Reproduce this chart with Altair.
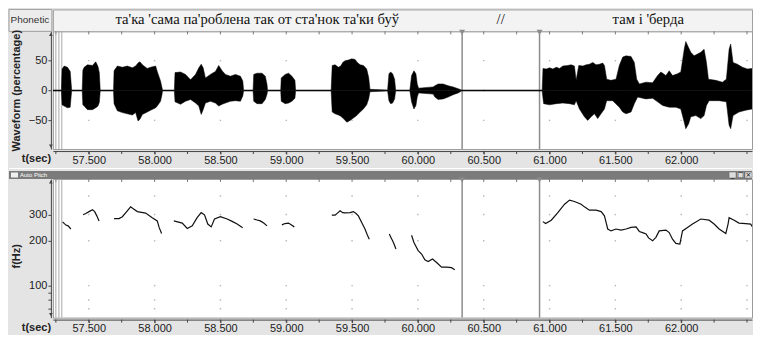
import altair as alt
import pandas as pd

# ---------------- data ----------------
X_DOMAIN = [57.2273, 62.5379]
LABEL_TICKS = [57.5, 58.0, 58.5, 59.0, 59.5, 60.0, 60.5, 61.0, 61.5, 62.0]
QUARTER_TICKS = [57.25, 57.5, 57.75, 58.0, 58.25, 58.5, 58.75, 59.0, 59.25, 59.5, 59.75,
                 60.0, 60.25, 60.5, 60.75, 61.0, 61.25, 61.5, 61.75, 62.0, 62.25, 62.5]
GRID_X = [57.5, 58.0, 58.5, 59.0, 59.5, 60.0, 60.5, 61.0, 61.5, 62.0, 62.5]
WAVE_GRID_Y = [-50, 0, 50]
PITCH_GRID_Y = [400, 300, 200, 100, 80, 70]

SEG_START = [57.2273, 60.333, 60.924]
SEG_END = [60.333, 60.924, 62.5758]
SEG_TEXT = ["та'ка 'сама па'роблена так от ста'нок та'ки буў", "//", "там і 'берда"]
BOUNDARIES = [60.336, 60.924]
LEFT_LINES = [57.250, 57.273, 57.295]

# upper envelope of the waveform
WAVE_TOP_T = [57.228, 57.292, 57.297, 57.313, 57.338, 57.359, 57.366, 57.370,
              57.450, 57.455, 57.465, 57.490, 57.528, 57.553, 57.570, 57.580, 57.587,
              57.688, 57.692, 57.717, 57.755, 57.793, 57.831, 57.856, 57.874, 57.889, 57.907,
              57.944, 57.970, 58.008, 58.020, 58.045, 58.056, 58.060,
              58.150, 58.155, 58.197, 58.235, 58.273, 58.311, 58.336, 58.354, 58.369, 58.386,
              58.424, 58.462, 58.487, 58.513, 58.538, 58.576, 58.614, 58.652, 58.670, 58.676,
              58.748, 58.753, 58.778, 58.816, 58.841, 58.854, 58.858,
              58.958, 58.962, 58.992, 59.018, 59.043, 59.066, 59.071,
              59.341, 59.349, 59.371, 59.396, 59.414, 59.429, 59.447, 59.472, 59.498, 59.523,
              59.540, 59.561, 59.586, 59.611, 59.626, 59.636,
              59.770, 59.780, 59.793, 59.808, 59.823, 59.831,
              59.939, 59.952, 59.970, 59.985, 59.995, 60.005, 60.116, 60.129, 60.154, 60.192,
              60.230, 60.268, 60.306, 60.331,
              60.944, 60.950, 60.975, 61.000, 61.025, 61.051, 61.076, 61.101, 61.139, 61.164,
              61.189, 61.202, 61.222, 61.253, 61.278, 61.303, 61.328, 61.354, 61.379, 61.404,
              61.417, 61.434, 61.467, 61.505, 61.530, 61.556, 61.581, 61.619, 61.644, 61.662,
              61.682, 61.732, 61.783, 61.821, 61.846, 61.884, 61.909, 61.934, 61.972, 61.997,
              62.023, 62.035, 62.056, 62.073, 62.098, 62.124, 62.149, 62.174, 62.192, 62.207,
              62.263, 62.313, 62.343, 62.364, 62.376, 62.394, 62.427, 62.465, 62.503, 62.540,
              62.566, 62.5758]
WAVE_TOP = [0.9, 0.9, 36, 41, 39, 32, 12, 0.9,
            0.9, 34, 39, 43, 42, 48, 40, 30, 0.9,
            0.9, 33, 41, 39, 41, 38, 41, 46, 48, 43,
            37, 39, 41, 32, 16, 5, 0.9,
            0.9, 30, 31, 27, 18, 27, 38, 44, 38, 21,
            27, 32, 42, 33, 27, 24, 27, 24, 16, 0.9,
            0.9, 27, 29, 29, 24, 10, 0.9,
            0.9, 21, 27, 29, 24, 17, 0.9,
            0.9, 42, 43, 39, 41, 47, 50, 51, 53, 52,
            47, 43, 42, 36, 22, 2,
            0.9, 28, 31, 28, 19, 0.9,
            0.9, 25, 33, 28, 11, 4, 6, 8, 11, 11,
            8, 6, 3, 0.9,
            0.9, 37, 36, 38, 36, 39, 37, 41, 42, 43,
            41, 17, 42, 41, 43, 44, 47, 43, 44, 46,
            42, 19, 17, 19, 42, 56, 58, 57, 47, 19,
            11, 14, 13, 25, 31, 25, 33, 25, 28, 31,
            69, 82, 72, 64, 58, 61, 64, 69, 47, 19,
            17, 14, 19, 69, 78, 47, 44, 39, 36, 37,
            36, 30]

# lower envelope of the waveform
WAVE_BOT_T = [57.228, 57.292, 57.297, 57.313, 57.338, 57.359, 57.366, 57.370,
              57.450, 57.455, 57.465, 57.490, 57.528, 57.553, 57.570, 57.580, 57.587,
              57.688, 57.692, 57.717, 57.755, 57.793, 57.831, 57.856, 57.874, 57.889, 57.907,
              57.944, 57.970, 58.008, 58.020, 58.045, 58.056, 58.060,
              58.150, 58.155, 58.197, 58.235, 58.273, 58.311, 58.336, 58.354, 58.369, 58.386,
              58.424, 58.462, 58.487, 58.513, 58.538, 58.576, 58.614, 58.652, 58.670, 58.676,
              58.748, 58.753, 58.778, 58.816, 58.841, 58.854, 58.858,
              58.958, 58.962, 58.992, 59.018, 59.043, 59.066, 59.071,
              59.341, 59.349, 59.371, 59.396, 59.414, 59.434, 59.460, 59.485, 59.510, 59.535,
              59.561, 59.586, 59.611, 59.626, 59.636,
              59.770, 59.780, 59.793, 59.808, 59.823, 59.831,
              59.939, 59.952, 59.970, 59.985, 59.995, 60.005, 60.116, 60.129, 60.154, 60.192,
              60.230, 60.268, 60.306, 60.331,
              60.944, 60.955, 61.000, 61.051, 61.101, 61.152, 61.189, 61.202, 61.227, 61.265,
              61.290, 61.316, 61.341, 61.366, 61.391, 61.417, 61.434, 61.480, 61.530, 61.556,
              61.581, 61.619, 61.644, 61.669, 61.732, 61.783, 61.821, 61.859, 61.909, 61.960,
              61.997, 62.023, 62.035, 62.056, 62.073, 62.111, 62.149, 62.174, 62.192, 62.212,
              62.288, 62.343, 62.364, 62.376, 62.394, 62.439, 62.490, 62.540, 62.566, 62.5758]
WAVE_BOT = [-0.9, -0.9, -24, -26, -29, -28, -10, -0.9,
            -0.9, -24, -26, -32, -32, -29, -26, -20, -0.9,
            -0.9, -22, -34, -37, -39, -41, -37, -51, -48, -40,
            -36, -33, -29, -26, -18, -7, -0.9,
            -0.9, -19, -23, -18, -15, -21, -26, -40, -32, -21,
            -18, -21, -26, -23, -21, -18, -17, -18, -9, -0.9,
            -0.9, -18, -22, -22, -15, -6, -0.9,
            -0.9, -18, -22, -21, -18, -13, -0.9,
            -0.9, -36, -39, -41, -43, -47, -53, -50, -46, -42,
            -36, -31, -24, -14, -2,
            -0.9, -17, -22, -21, -14, -0.9,
            -0.9, -19, -31, -25, -11, -4, -6, -11, -15, -14,
            -11, -7, -4, -0.9,
            -0.9, -22, -24, -22, -21, -22, -24, -17, -31, -44,
            -50, -44, -39, -47, -39, -31, -17, -17, -28, -36,
            -39, -36, -22, -11, -14, -13, -19, -25, -28, -28,
            -31, -53, -64, -56, -44, -42, -47, -42, -25, -17,
            -17, -19, -58, -64, -42, -36, -33, -31, -31, -20]

PITCH_T = [
    [57.301, 57.326, 57.343, 57.364],
    [57.457, 57.477, 57.502, 57.528, 57.545, 57.561, 57.578],
    [57.692, 57.730, 57.755, 57.788, 57.818, 57.843, 57.869, 57.932, 57.982, 58.020, 58.035, 58.053],
    [58.146, 58.210, 58.248, 58.286, 58.323, 58.354, 58.379, 58.404, 58.430, 58.455, 58.500,
     58.551, 58.589, 58.627, 58.669],
    [58.752, 58.778, 58.803, 58.829, 58.854],
    [58.967, 58.990, 59.017, 59.040, 59.061],
    [59.346, 59.371, 59.389, 59.409, 59.429, 59.447, 59.485, 59.510, 59.530, 59.548, 59.573,
     59.598, 59.616, 59.631],
    [59.783, 59.796, 59.808, 59.821, 59.833],
    [59.952, 59.970, 60.002, 60.028, 60.053, 60.078, 60.111, 60.142, 60.180, 60.217, 60.255, 60.280],
    [60.949, 60.970, 61.013, 61.063, 61.114, 61.152, 61.189, 61.240, 61.265, 61.303, 61.354,
     61.392, 61.417, 61.430, 61.442, 61.467, 61.505, 61.543, 61.581, 61.619, 61.657, 61.682,
     61.707, 61.733, 61.752, 61.783, 61.808, 61.833, 61.884, 61.909, 61.934, 61.960, 61.990,
     62.010, 62.048, 62.086, 62.149, 62.212, 62.250, 62.288, 62.339, 62.356, 62.364, 62.402,
     62.439, 62.490, 62.528, 62.548, 62.570],
]
PITCH_F = [
    [268, 255, 252, 240],
    [299, 305, 314, 323, 314, 294, 272],
    [282, 282, 290, 314, 338, 326, 314, 307, 286, 272, 245, 224],
    [272, 263, 242, 252, 286, 309, 299, 259, 248, 280, 290, 280, 270, 259, 245],
    [280, 276, 272, 263, 252],
    [256, 261, 263, 255, 248],
    [297, 297, 307, 318, 309, 308, 309, 314, 305, 294, 265, 240, 219, 205],
    [222, 210, 200, 188, 176],
    [218, 195, 172, 163, 149, 145, 151, 143, 133, 133, 132, 128],
    [269, 261, 275, 309, 352, 375, 367, 352, 338, 321, 321,
     314, 294, 265, 240, 233, 240, 236, 240, 246, 248, 231,
     227, 222, 209, 200, 211, 233, 236, 227, 205, 192, 190,
     233, 246, 259, 280, 275, 259, 240, 224, 259, 286, 275,
     263, 261, 259, 243, 224],
]

# ---------------- styling ----------------
BG = '#e4e4e4'
FONT = 'Liberation Sans'
INK = '#222222'
LINEGRAY = '#8c8c8c'
W = 701
WAVE_H = 118
PITCH_H = 139

xscale = alt.Scale(domain=X_DOMAIN, nice=False, zero=False)


def x_axis(title_y):
    return alt.Axis(values=LABEL_TICKS, format='.3f',
                    title='t(sec)', titleX=-17, titleY=title_y, titleAlign='center', titleBaseline='middle',
                    titleFontWeight='bold', titleFontSize=11, titleFont=FONT, titleColor=INK,
                    grid=False, tickSize=3, labelPadding=0, offset=2, domainColor='#444', tickColor='#444',
                    labelFontSize=11, labelFont=FONT, labelColor=INK, labelOverlap=False, labelFlush=False)


wave_grid = pd.DataFrame([(gx, gy) for gx in GRID_X for gy in WAVE_GRID_Y], columns=['t', 'v'])
pitch_grid = pd.DataFrame([(gx, gy) for gx in GRID_X for gy in PITCH_GRID_Y], columns=['t', 'v'])
bnd_df = pd.DataFrame({'t': BOUNDARIES})
left_df = pd.DataFrame({'t': LEFT_LINES})
tick_df = pd.DataFrame({'t': QUARTER_TICKS})
one = pd.DataFrame({'k': [0]})


def decorations(h):
    top_ticks = alt.Chart(tick_df).mark_rule(color='#777').encode(
        x='t:Q', y=alt.value(0), y2=alt.value(3))
    bot_ticks = alt.Chart(tick_df).mark_rule(color='#444').encode(
        x='t:Q', y=alt.value(h + 2), y2=alt.value(h + 5))
    left = alt.Chart(left_df).mark_rule(color='#a8a8a8', strokeWidth=1).encode(x='t:Q')
    bnd = alt.Chart(bnd_df).mark_rule(color=LINEGRAY, strokeWidth=1.5).encode(x='t:Q')
    tri = alt.Chart(bnd_df).mark_point(shape='triangle-down', filled=True, size=35, color=LINEGRAY,
                                       opacity=1).encode(x='t:Q', y=alt.value(1))
    up = alt.Chart(one).mark_point(shape='triangle-up', filled=True, size=14, color='#444',
                                   opacity=1).encode(x=alt.value(-2), y=alt.value(3))
    dn = alt.Chart(one).mark_point(shape='triangle-down', filled=True, size=14, color='#444',
                                   opacity=1).encode(x=alt.value(-2), y=alt.value(h - 3))
    return [top_ticks, bot_ticks, left, bnd, tri, up, dn]


# ---------------- phonetic bar ----------------
phon_df = pd.DataFrame({'start': SEG_START, 'end': SEG_END, 'text': SEG_TEXT})
phon_df['t'] = (phon_df['start'] + phon_df['end']) / 2
phon_df['row'] = 'p'
phon_text = alt.Chart(phon_df).mark_text(font='Liberation Serif', fontSize=14.7, color='#111').encode(
    x=alt.X('t:Q', scale=xscale, axis=None),
    y=alt.Y('row:N', axis=None),
    text='text:N')
phon_box = alt.Chart(one).mark_rect(fill='#ececec', stroke='#a0a0a0').encode(
    x=alt.value(-44), x2=alt.value(-1), y=alt.value(0), y2=alt.value(22))
phon_lbl = alt.Chart(one).mark_text(font=FONT, fontSize=10, color='#333').encode(
    x=alt.value(-23), y=alt.value(11), text=alt.value('Phonetic'))
phon = alt.layer(phon_box, phon_lbl, phon_text).properties(
    width=W, height=22, view=alt.ViewBackground(fill='#f3f3f3', stroke='#a0a0a0'))

# ---------------- waveform ----------------
wy = alt.Scale(domain=[-98, 99], nice=False, zero=False)
wave_y_axis = alt.Axis(values=[-50, 0, 50], title='Waveform (percentage)', titleX=-34, titleY=59,
                       titleAngle=-90, titleAlign='center', titleBaseline='middle', titleFontWeight='bold',
                       titleFontSize=11, titleFont=FONT, titleColor=INK, grid=False, tickSize=3,
                       labelPadding=1, offset=2, domainColor='#444', tickColor='#444', labelFontSize=11,
                       labelFont=FONT, labelColor=INK)

w_dots = alt.Chart(wave_grid).mark_square(size=2, color='#999').encode(
    x=alt.X('t:Q', scale=xscale, axis=x_axis(7)), y=alt.Y('v:Q', scale=wy, axis=wave_y_axis))
top_df = pd.DataFrame({'t': WAVE_TOP_T, 'v': WAVE_TOP})
bot_df = pd.DataFrame({'t': WAVE_BOT_T, 'v': WAVE_BOT})
w_up = alt.Chart(top_df).mark_area(color='black', stroke='black', strokeWidth=0.5, clip=True).encode(
    x='t:Q', y='v:Q', y2=alt.datum(0))
w_dn = alt.Chart(bot_df).mark_area(color='black', stroke='black', strokeWidth=0.5, clip=True).encode(
    x='t:Q', y='v:Q', y2=alt.datum(0))
wave = alt.layer(w_dots, *decorations(WAVE_H), w_up, w_dn).properties(
    width=W, height=WAVE_H, view=alt.ViewBackground(fill='white', stroke='#9a9a9a'))

# ---------------- auto pitch title bar ----------------
ap_line = alt.Chart(one).mark_rect(color='#ffffff').encode(
    x=alt.value(-44), x2=alt.value(W), y=alt.value(19), y2=alt.value(20))
ap_bar = alt.Chart(one).mark_rect(color='#7b7b7b').encode(
    x=alt.value(-44), x2=alt.value(W), y=alt.value(22), y2=alt.value(30))
ap_icon = alt.Chart(one).mark_rect(color='#f0f0f0').encode(
    x=alt.value(-42), x2=alt.value(-35), y=alt.value(23.5), y2=alt.value(28.5))
ap_txt = alt.Chart(one).mark_text(color='white', fontSize=6, font=FONT, align='left', baseline='middle').encode(
    x=alt.value(-33), y=alt.value(26), text=alt.value('Auto Pitch'))
btn_df = pd.DataFrame({'b': ['_', '□', '×'], 'x0': [678, 686, 694], 'x1': [685, 693, 701]})
ap_btn = alt.Chart(btn_df).mark_rect(color='#dcdcdc', stroke='#666', strokeWidth=0.5).encode(
    x=alt.X('x0:Q', scale=None), x2=alt.X2('x1:Q'), y=alt.value(23), y2=alt.value(29))
ap_btn_t = alt.Chart(btn_df).mark_text(fontSize=7, font='DejaVu Sans', color='black', dx=3.5).encode(
    x=alt.X('x0:Q', scale=None), y=alt.value(26.5), text='b:N')
autop = alt.layer(ap_line, ap_bar, ap_icon, ap_txt, ap_btn, ap_btn_t).properties(
    width=W, height=30, view=alt.ViewBackground(fill=None, stroke=None))

# ---------------- pitch ----------------
py = alt.Scale(type='log', domain=[61, 520], nice=False)
pitch_y_axis = alt.Axis(values=[70, 80, 90, 100, 200, 300],
                        labelExpr="datum.value >= 100 ? datum.value : ''",
                        title='f(Hz)', titleX=-34, titleY=77, titleAngle=-90, titleAlign='center',
                        titleBaseline='middle', titleFontWeight='bold', titleFontSize=11, titleFont=FONT,
                        titleColor=INK, grid=False, tickSize=3, labelPadding=1, offset=2,
                        domainColor='#444', tickColor='#444', labelFontSize=11, labelFont=FONT,
                        labelColor=INK, labelOverlap=False)
rows = []
for i, (ts, fs) in enumerate(zip(PITCH_T, PITCH_F)):
    for t, f in zip(ts, fs):
        rows.append((i, t, f))
pitch_df = pd.DataFrame(rows, columns=['seg', 't', 'v'])

p_dots = alt.Chart(pitch_grid).mark_square(size=2, color='#999').encode(
    x=alt.X('t:Q', scale=xscale, axis=x_axis(8)), y=alt.Y('v:Q', scale=py, axis=pitch_y_axis))
p_line = alt.Chart(pitch_df).mark_line(color='#111', strokeWidth=1.2, clip=True).encode(
    x='t:Q', y='v:Q', detail='seg:N')
pitch = alt.layer(p_dots, *decorations(PITCH_H), p_line).properties(
    width=W, height=PITCH_H, view=alt.ViewBackground(fill='white', stroke='#9a9a9a'))

chart = alt.vconcat(phon, wave, autop, pitch, spacing=0, bounds='flush').properties(
    background=BG, padding=0
).configure_view(stroke=None)

chart.save("out.html", embed_options={"renderer": "svg", "actions": False})
